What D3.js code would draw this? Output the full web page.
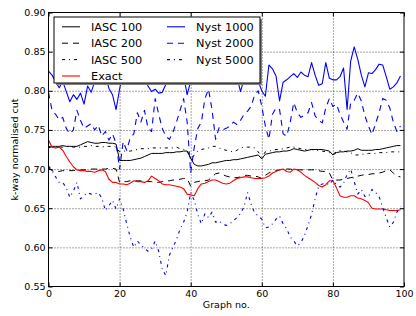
<!DOCTYPE html>
<html>
<head>
<meta charset="utf-8">
<script src="https://cdnjs.cloudflare.com/ajax/libs/d3/7.8.5/d3.min.js"></script>
<style>
body { margin: 0; background: #fff; }
svg { display: block; font-family: "DejaVu Sans", sans-serif; }
</style>
</head>
<body>
<div id="chart"></div>
<script>

// graph numbers on the x axis
var graphNo = d3.range(0, 100);

var xTicks = [0, 20, 40, 60, 80, 100];
var yTicks = [0.55, 0.60, 0.65, 0.70, 0.75, 0.80, 0.85, 0.90];

var iasc100 = [0.727,0.729,0.729,0.729,0.730,0.729,0.729,0.729,0.729,0.731,
    0.733,0.735,0.734,0.733,0.733,0.734,0.734,0.733,0.733,0.732,
    0.711,0.711,0.711,0.711,0.712,0.713,0.714,0.716,0.718,0.720,
    0.720,0.720,0.720,0.721,0.721,0.721,0.722,0.722,0.723,0.723,
    0.714,0.706,0.704,0.704,0.705,0.706,0.708,0.708,0.709,0.710,
    0.711,0.711,0.712,0.712,0.713,0.714,0.715,0.716,0.717,0.718,
    0.713,0.719,0.720,0.721,0.722,0.722,0.723,0.723,0.724,0.726,
    0.725,0.724,0.723,0.724,0.725,0.725,0.725,0.725,0.724,0.723,
    0.718,0.721,0.722,0.722,0.723,0.723,0.724,0.726,0.724,0.724,
    0.724,0.724,0.725,0.725,0.726,0.727,0.728,0.729,0.730,0.730];

var iasc200 = [0.702,0.698,0.697,0.697,0.698,0.698,0.698,0.698,0.699,0.699,
    0.699,0.699,0.700,0.700,0.700,0.700,0.700,0.701,0.701,0.700,
    0.683,0.684,0.684,0.685,0.685,0.685,0.685,0.684,0.684,0.684,
    0.683,0.683,0.684,0.685,0.685,0.686,0.686,0.687,0.688,0.688,
    0.678,0.683,0.684,0.685,0.685,0.686,0.690,0.694,0.695,0.693,
    0.691,0.690,0.689,0.689,0.690,0.692,0.692,0.691,0.691,0.690,
    0.688,0.692,0.695,0.697,0.698,0.699,0.700,0.700,0.700,0.699,
    0.699,0.699,0.699,0.699,0.699,0.699,0.698,0.697,0.697,0.695,
    0.686,0.686,0.686,0.687,0.688,0.689,0.690,0.691,0.692,0.693,
    0.693,0.694,0.694,0.695,0.696,0.698,0.699,0.695,0.691,0.690];

var iasc500 = [0.729,0.728,0.727,0.728,0.728,0.729,0.729,0.728,0.728,0.728,
    0.729,0.729,0.730,0.729,0.729,0.728,0.729,0.729,0.729,0.728,
    0.722,0.723,0.723,0.723,0.724,0.725,0.726,0.726,0.726,0.727,
    0.727,0.727,0.727,0.727,0.727,0.727,0.728,0.726,0.725,0.724,
    0.712,0.718,0.723,0.725,0.726,0.727,0.729,0.729,0.727,0.725,
    0.724,0.723,0.722,0.724,0.727,0.728,0.728,0.728,0.727,0.722,
    0.715,0.722,0.723,0.724,0.725,0.725,0.726,0.727,0.728,0.728,
    0.727,0.726,0.725,0.725,0.725,0.724,0.724,0.723,0.722,0.721,
    0.719,0.722,0.724,0.723,0.722,0.721,0.718,0.718,0.719,0.719,
    0.720,0.720,0.720,0.721,0.721,0.721,0.722,0.722,0.722,0.722];

var exact = [0.737,0.728,0.727,0.728,0.724,0.716,0.709,0.703,0.699,0.698,
    0.698,0.697,0.697,0.696,0.698,0.699,0.697,0.687,0.683,0.683,
    0.681,0.681,0.680,0.682,0.685,0.684,0.684,0.683,0.685,0.691,
    0.688,0.685,0.681,0.680,0.680,0.679,0.678,0.677,0.675,0.668,
    0.667,0.666,0.675,0.681,0.682,0.684,0.686,0.686,0.684,0.682,
    0.681,0.682,0.685,0.688,0.689,0.690,0.690,0.689,0.688,0.688,
    0.688,0.689,0.691,0.695,0.697,0.699,0.700,0.697,0.696,0.700,
    0.699,0.696,0.692,0.689,0.686,0.683,0.679,0.677,0.680,0.685,
    0.685,0.676,0.666,0.664,0.664,0.666,0.666,0.663,0.662,0.660,
    0.657,0.650,0.649,0.649,0.649,0.648,0.647,0.647,0.647,0.648];

var nyst1000 = [0.825,0.820,0.812,0.804,0.812,0.799,0.786,0.795,0.789,0.797,
    0.783,0.806,0.798,0.812,0.825,0.830,0.820,0.803,0.795,0.776,
    0.802,0.825,0.830,0.820,0.835,0.820,0.825,0.815,0.806,0.799,
    0.802,0.797,0.798,0.808,0.815,0.825,0.820,0.830,0.820,0.795,
    0.812,0.825,0.830,0.820,0.835,0.825,0.830,0.820,0.828,0.822,
    0.830,0.825,0.820,0.818,0.799,0.815,0.825,0.820,0.830,0.812,
    0.800,0.793,0.833,0.828,0.819,0.787,0.811,0.814,0.818,0.822,
    0.817,0.824,0.820,0.818,0.836,0.820,0.807,0.809,0.836,0.816,
    0.814,0.814,0.818,0.829,0.776,0.838,0.856,0.840,0.820,0.805,
    0.823,0.822,0.827,0.834,0.833,0.818,0.802,0.805,0.810,0.819];

var nyst2000 = [0.798,0.775,0.770,0.763,0.766,0.752,0.745,0.750,0.775,0.762,
    0.752,0.755,0.758,0.750,0.756,0.742,0.748,0.737,0.745,0.733,
    0.700,0.735,0.724,0.740,0.745,0.772,0.760,0.775,0.752,0.748,
    0.790,0.770,0.752,0.742,0.738,0.747,0.760,0.775,0.790,0.760,
    0.695,0.728,0.752,0.760,0.790,0.802,0.776,0.738,0.753,0.750,
    0.752,0.755,0.760,0.757,0.762,0.770,0.774,0.780,0.795,0.800,
    0.780,0.755,0.738,0.770,0.778,0.776,0.745,0.742,0.760,0.785,
    0.772,0.766,0.769,0.772,0.785,0.768,0.762,0.759,0.778,0.790,
    0.780,0.783,0.770,0.760,0.751,0.785,0.788,0.797,0.787,0.768,
    0.755,0.744,0.758,0.772,0.790,0.788,0.778,0.760,0.748,0.755];

var nyst5000 = [0.704,0.698,0.690,0.683,0.683,0.676,0.664,0.672,0.683,0.662,
    0.666,0.670,0.668,0.668,0.670,0.663,0.647,0.653,0.660,0.649,
    0.662,0.649,0.630,0.613,0.600,0.608,0.603,0.599,0.595,0.598,
    0.608,0.595,0.572,0.564,0.590,0.600,0.610,0.623,0.632,0.645,
    0.670,0.660,0.642,0.630,0.643,0.638,0.645,0.632,0.634,0.630,
    0.628,0.630,0.634,0.638,0.643,0.652,0.670,0.655,0.644,0.640,
    0.636,0.625,0.626,0.630,0.636,0.640,0.630,0.624,0.613,0.608,
    0.602,0.606,0.615,0.628,0.642,0.662,0.678,0.681,0.682,0.680,
    0.686,0.680,0.677,0.682,0.693,0.700,0.684,0.668,0.674,0.665,
    0.665,0.674,0.670,0.665,0.651,0.638,0.626,0.632,0.645,0.652];

var seriesNames = ["IASC 100", "IASC 200", "IASC 500", "Exact", "Nyst 1000", "Nyst 2000", "Nyst 5000"];

var margin = { top: 12.5, right: 12, bottom: 29.5, left: 48.5 };

var width = 416 - margin.left - margin.right,
    height = 316 - margin.top - margin.bottom;

var svg = d3.select("#chart").append("svg")
    .attr("width", 416)
    .attr("height", 316);

var g = svg.append("g")
    .attr("transform", "translate(" + margin.left + "," + margin.top + ")");

var x = d3.scaleLinear().domain([0, 100]).range([0, width]);
var y = d3.scaleLinear().domain([0.55, 0.90]).range([height, 0]);

// line styles, same order as the legend
var series = [
    { name: seriesNames[0], values: iasc100, color: "#000000", dash: null, lw: 1 },
    { name: seriesNames[1], values: iasc200, color: "#000000", dash: "6,5", lw: 1 },
    { name: seriesNames[2], values: iasc500, color: "#000000", dash: "3,4,1,4", lw: 1 },
    { name: seriesNames[3], values: exact, color: "#ff0000", dash: null, lw: 1.1 },
    { name: seriesNames[4], values: nyst1000, color: "#0000ff", dash: null, lw: 1.1 },
    { name: seriesNames[5], values: nyst2000, color: "#0000ff", dash: "6,5", lw: 1.1 },
    { name: seriesNames[6], values: nyst5000, color: "#0000ff", dash: "3,4,1,4", lw: 1.1 }
];

svg.append("defs").append("clipPath").attr("id", "clip")
    .append("rect").attr("width", width).attr("height", height);

//dotted grid
g.append("g")
    .attr("transform", "translate(0," + height + ")")
    .call(d3.axisBottom(x).tickValues(xTicks.slice(1, -1)).tickSize(-height).tickFormat(""))
    .call(a => a.select(".domain").remove())
    .selectAll("line")
    .attr("stroke", "#000").attr("stroke-width", 0.7).attr("stroke-dasharray", "1,2");

g.append("g")
    .call(d3.axisLeft(y).tickValues(yTicks.slice(1, -1)).tickSize(-width).tickFormat(""))
    .call(a => a.select(".domain").remove())
    .selectAll("line")
    .attr("stroke", "#000").attr("stroke-width", 0.7).attr("stroke-dasharray", "1,2");

// data lines
var line = d3.line()
    .x(function(d, i) { return x(graphNo[i]); })
    .y(function(d) { return y(d); });

g.append("g").attr("clip-path", "url(#clip)")
    .selectAll("path")
    .data(series)
    .join("path")
    .attr("d", function(d) { return line(d.values); })
    .attr("fill", "none")
    .attr("stroke", function(d) { return d.color; })
    .attr("stroke-width", function(d) { return d.lw; })
    .attr("stroke-dasharray", function(d) { return d.dash; })
    .attr("stroke-linejoin", "round");

// axes with inward ticks on all four sides
var fmtY = d3.format(".2f");

function styleAxis(a) {
    a.select(".domain").remove();
    a.selectAll("text").attr("font-size", "9.5px").attr("fill", "#000").attr("font-family", "DejaVu Sans, sans-serif");
    a.selectAll("line").attr("stroke", "#000");
}

g.append("g")
    .attr("transform", "translate(0," + height + ")")
    .call(d3.axisBottom(x).tickValues(xTicks).tickSize(-4).tickPadding(3.5))
    .call(styleAxis);

g.append("g")
    .call(d3.axisTop(x).tickValues(xTicks).tickSize(-4).tickFormat(""))
    .call(styleAxis);

g.append("g")
    .call(d3.axisLeft(y).tickValues(yTicks).tickSize(-4).tickPadding(3).tickFormat(fmtY))
    .call(styleAxis);

g.append("g")
    .attr("transform", "translate(" + width + ",0)")
    .call(d3.axisRight(y).tickValues(yTicks).tickSize(-4).tickFormat(""))
    .call(styleAxis);

g.append("rect")
    .attr("width", width).attr("height", height)
    .attr("fill", "none").attr("stroke", "#000").attr("stroke-width", 1);

// axis labels
svg.append("text")
    .attr("x", margin.left + width / 2)
    .attr("y", 305)
    .attr("dy", "0.35em")
    .attr("text-anchor", "middle")
    .attr("font-size", "9.5px")
    .text("Graph no.");

svg.append("text")
    .attr("transform", "translate(15," + (margin.top + height / 2) + ") rotate(-90)")
    .attr("dy", "0.35em")
    .attr("text-anchor", "middle")
    .attr("font-size", "9.5px")
    .text("k-way normalised cut");

// legend
var legend = svg.append("g").attr("transform", "translate(54,17)");

legend.append("rect")
    .attr("x", 2).attr("y", 2)
    .attr("width", 206).attr("height", 66)
    .attr("fill", "#808080");

legend.append("rect")
    .attr("width", 206).attr("height", 66)
    .attr("fill", "#fff").attr("stroke", "#000").attr("stroke-width", 1);

var colX = [8, 113];
var items = legend.selectAll("g.item")
    .data(series)
    .join("g")
    .attr("class", "item")
    .attr("transform", function(d, i) {
        var col = i < 4 ? 0 : 1, row = i < 4 ? i : i - 4;
        return "translate(" + colX[col] + "," + (9.8 + row * 16.4) + ")";
    });

items.append("line")
    .attr("x1", 0).attr("x2", 18)
    .attr("stroke", function(d) { return d.color; })
    .attr("stroke-width", function(d) { return d.lw; })
    .attr("stroke-dasharray", function(d) { return d.dash; });

items.append("text")
    .attr("x", 29)
    .attr("dy", "0.36em")
    .attr("font-size", "11.3px")
    .text(function(d) { return d.name; });

</script>
</body>
</html>
